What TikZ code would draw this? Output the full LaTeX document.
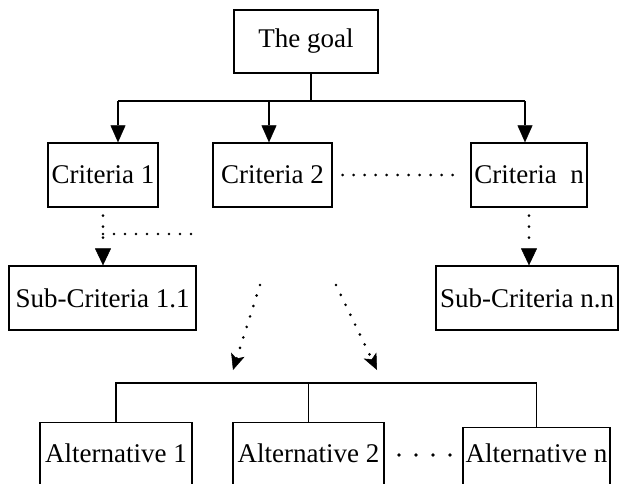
\documentclass[tikz,border=0pt]{standalone}
\usepackage{fontspec}
\setmainfont{Liberation Serif}
\usetikzlibrary{arrows.meta}
\begin{document}
\begin{tikzpicture}[x=1pt,y=-1pt,
  box/.style={draw, line width=1.3pt, inner sep=0pt, font=\fontsize{27pt}{30pt}\selectfont},
  altbox/.style={draw, line width=1.3pt, inner sep=0pt, anchor=north, text depth=100pt, font=\fontsize{27pt}{30pt}\selectfont},
  link/.style={line width=1.3pt},
  arr/.style={line width=1.3pt, -{Triangle[length=17pt,width=15pt,line width=0.5pt]}},
  dotline/.style={line width=2.9pt, line cap=round, dash pattern=on 0pt off 11pt},
  dotarr/.style={dotline, -{Triangle[length=17pt,width=16pt,line width=0.5pt]}},
  diagarr/.style={dotline, -{Stealth[length=16pt,width=14pt,inset=4pt,line width=0.5pt]}},
  bigdots/.style={line width=3.6pt, line cap=round, dash pattern=on 0pt off 17pt}
]
\clip (0,0) rectangle (619,484);
\fill[white] (0,0) rectangle (619,484);

\node[box, minimum width=144pt, minimum height=63pt] (goal) at (306,41.5) {The goal};
\node[box, minimum width=110pt, minimum height=64pt] (crit1) at (103,175) {Criteria 1};
\node[box, minimum width=119pt, minimum height=64pt] (crit2) at (272.5,175) {Criteria 2};
\node[box, minimum width=116pt, minimum height=64pt] (critn) at (529,175) {Criteria\ \ n};
\node[box, minimum width=187pt, minimum height=64pt] (sub1) at (102.5,298) {Sub-Criteria 1.1};
\node[box, minimum width=182pt, minimum height=64pt] (subn) at (527,298) {Sub-Criteria n.n};
\node[altbox, minimum width=152pt, text height=40pt] (alt1) at (116,422) {Alternative 1};
\node[altbox, minimum width=151pt, text height=40pt] (alt2) at (308.5,422) {Alternative 2};
\node[altbox, minimum width=147pt, text height=35pt] (altn) at (536.5,427) {Alternative n};

% top tree
\coordinate (tstem) at (311,101);
\coordinate (t1) at (118,101);
\coordinate (t2) at (269,101);
\coordinate (t3) at (525,101);
\draw[link] (goal.south -| tstem) -- (tstem);
\draw[link] (t1) -- (t3);
\draw[arr] (t1) -- (crit1.north -| t1);
\draw[arr] (t2) -- (crit2.north -| t2);
\draw[arr] (t3) -- (critn.north -| t3);

% dotted links between criteria
\draw[dotline, shorten <=10pt, shorten >=7pt] (crit2.east) -- (critn.west);

% sub-criteria
\coordinate (br) at (195,234);
\draw[dotarr, shorten <=8pt] (crit1.south) -- (crit1.south |- sub1.north);
\draw[dotline] (crit1.south |- br) -- (br);
\draw[dotarr, shorten <=8pt] (critn.south) -- (critn.south |- subn.north);

% diagonal arrows
\coordinate (d1s) at (260,285);
\coordinate (d1e) at (233,370);
\coordinate (d2s) at (336,285);
\coordinate (d2e) at (377,370);
\draw[diagarr] (d1s) -- (d1e);
\draw[diagarr] (d2s) -- (d2e);

% alternatives bus
\coordinate (bus) at (300,383);
\draw[link] (alt1.north) -- (alt1.north |- bus) -- (altn.north |- bus) -- (altn.north);
\draw[link] (alt2.north) -- (alt2.north |- bus);

% dots between alternatives
\coordinate (ad1) at (399,455);
\coordinate (ad2) at (451,455);
\draw[bigdots] (ad1) -- (ad2);
\end{tikzpicture}
\end{document}
